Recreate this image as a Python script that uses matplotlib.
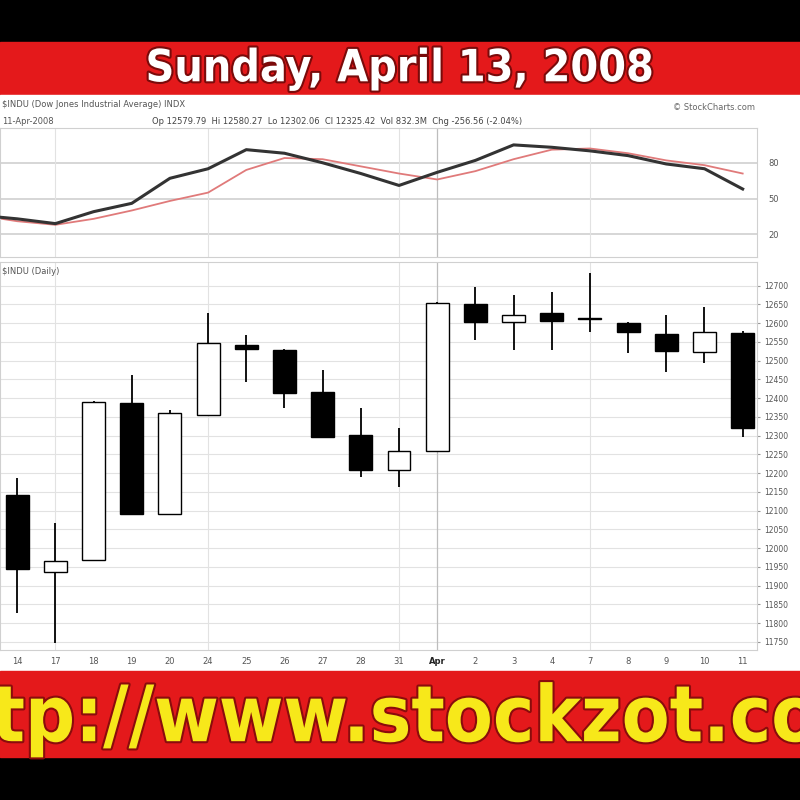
import pandas as pd
import matplotlib.pyplot as plt
import matplotlib.patheffects as pe
from matplotlib.patches import Rectangle
from matplotlib import font_manager as fm

# $INDU daily candles, 14 Mar - 11 Apr 2008
dates = ["2008-03-14", "2008-03-17", "2008-03-18", "2008-03-19", "2008-03-20",
         "2008-03-24", "2008-03-25", "2008-03-26", "2008-03-27", "2008-03-28",
         "2008-03-31", "2008-04-01", "2008-04-02", "2008-04-03", "2008-04-04",
         "2008-04-07", "2008-04-08", "2008-04-09", "2008-04-10", "2008-04-11"]
opens = [12141, 11936, 11968, 12387, 12091, 12355, 12542, 12529, 12416, 12302,
         12208, 12259, 12651, 12603, 12627, 12612, 12601, 12571, 12523, 12574]
closes = [11944, 11965, 12390, 12091, 12360, 12547, 12531, 12414, 12296, 12208,
          12259, 12654, 12603, 12622, 12606, 12614, 12577, 12526, 12577, 12320]
highs = [12187, 12067, 12392, 12462, 12368, 12627, 12569, 12532, 12475, 12374,
         12320, 12656, 12697, 12675, 12683, 12734, 12603, 12622, 12643, 12578]
lows = [11826, 11746, 11965, 12088, 12088, 12352, 12443, 12374, 12293, 12189,
        12163, 12256, 12555, 12529, 12529, 12577, 12520, 12470, 12494, 12296]

# oscillator panel, first value is 13 Mar (just off the left edge)
osc_main = [36, 33, 29, 39, 46, 67, 75, 91, 88, 80, 71, 61, 72, 82, 95, 93, 90, 86, 79, 75, 58]
osc_signal = [36, 31, 28, 33, 40, 48, 55, 74, 84, 83, 77, 71, 66, 73, 83, 91, 92, 88, 82, 78, 71]
osc_levels = [20, 50, 80]

price_ticks = list(range(11750, 12701, 50))

title = "Sunday, April 13, 2008"
url = "http://www.stockzot.com"
hdr1 = "$INDU (Dow Jones Industrial Average) INDX"
hdr2 = "Op 12579.79  Hi 12580.27  Lo 12302.06  Cl 12325.42  Vol 832.3M  Chg -256.56 (-2.04%)"

d = pd.to_datetime(dates)
x = list(range(len(d)))
labels = ["Apr" if (i > 0 and t.month != d[i - 1].month) else str(t.day) for i, t in enumerate(d)]
mondays = [i for i, t in enumerate(d) if t.weekday() == 0]
month_start = [i for i in x if i > 0 and d[i].month != d[i - 1].month]

# narrow bold face for the banners, if one is around
fonts = {(f.name, f.stretch) for f in fm.fontManager.ttflist}
if any(n == "Liberation Sans Narrow" for n, s in fonts):
    banner = dict(family="Liberation Sans Narrow", weight="bold")
    t_size, u_size = 39, 66
elif ("DejaVu Sans", "condensed") in fonts:
    banner = dict(family="DejaVu Sans", stretch="condensed", weight="bold")
    t_size, u_size = 32, 56
else:
    banner = dict(family="DejaVu Sans", weight="bold")
    t_size, u_size = 29, 49

fig = plt.figure(figsize=(8, 8), dpi=100, facecolor="black")
red = "#e4191b"
fig.add_artist(Rectangle((0, 0.88125), 1, 0.066, transform=fig.transFigure, color=red, zorder=0))
fig.add_artist(Rectangle((0, 0.16125), 1, 0.72, transform=fig.transFigure, color="white", zorder=0))
fig.add_artist(Rectangle((0, 0.05375), 1, 0.1075, transform=fig.transFigure, color=red, zorder=0))

fig.text(0.5, 0.914, title, ha="center", va="center", color="white", fontsize=t_size,
         path_effects=[pe.withStroke(linewidth=3, foreground="#7a0a0a")], **banner)
fig.text(0.5, 0.101, url, ha="center", va="center", color="#f7e81a", fontsize=u_size,
         path_effects=[pe.withStroke(linewidth=3, foreground="#8a0c0c")], **banner)

fig.text(0.002, 0.869, hdr1, fontsize=6, color="#555", va="center")
fig.text(0.002, 0.848, "11-Apr-2008", fontsize=6, color="#555", va="center")
fig.text(0.19, 0.848, hdr2, fontsize=6, color="#444", va="center")
fig.text(0.944, 0.866, "© StockCharts.com", fontsize=6, color="#666", va="center", ha="right")

grid_c = "#e2e2e2"

# oscillator panel
ax1 = fig.add_axes([0, 0.67875, 0.946, 0.161])
ax1.set_facecolor("white")
for lv in osc_levels:
    ax1.axhline(lv, color="#cfcfcf", lw=1.2, zorder=1)
for m in mondays:
    ax1.axvline(m, color=grid_c, lw=0.8, zorder=1)
for m in month_start:
    ax1.axvline(m, color="#bdbdbd", lw=0.9, zorder=1)
ox = list(range(-1, len(osc_main) - 1))
ax1.plot(ox, osc_signal, color="#e07a7a", lw=1.3, zorder=2)
ax1.plot(ox, osc_main, color="#333333", lw=2.2, zorder=3)
ax1.set_xlim(-0.45, 19.37)
ax1.set_ylim(1, 109)
ax1.set_xticks([])
ax1.yaxis.tick_right()
ax1.set_yticks(osc_levels)
ax1.tick_params(axis="y", length=0, labelsize=6, labelcolor="#555", pad=8)
for s in ax1.spines.values():
    s.set_color("#d0d0d0")
    s.set_linewidth(0.8)

# price panel
ax2 = fig.add_axes([0, 0.1875, 0.946, 0.485])
ax2.set_facecolor("white")
for p in price_ticks:
    ax2.axhline(p, color=grid_c, lw=0.8, zorder=1)
for m in mondays:
    ax2.axvline(m, color=grid_c, lw=0.8, zorder=1)
for m in month_start:
    ax2.axvline(m, color="#bdbdbd", lw=0.9, zorder=1)

up = [c >= o for o, c in zip(opens, closes)]
ax2.vlines(x, lows, highs, color="black", lw=1.3, zorder=2)
ax2.bar(x, [abs(c - o) for o, c in zip(opens, closes)], bottom=[min(o, c) for o, c in zip(opens, closes)],
        width=0.6, color=["white" if u else "black" for u in up], edgecolor="black", lw=1.0, zorder=3)

ax2.set_xlim(-0.45, 19.37)
ax2.set_ylim(11728, 12763)
ax2.yaxis.tick_right()
ax2.set_yticks(price_ticks)
ax2.set_yticklabels([str(p) for p in price_ticks])
ax2.tick_params(axis="y", length=2, labelsize=5.5, labelcolor="#555", color="#999", pad=3)
ax2.set_xticks(x)
ax2.set_xticklabels(labels)
ax2.tick_params(axis="x", length=0, labelsize=6, labelcolor="#555", pad=5)
for lab in ax2.get_xticklabels():
    if lab.get_text() == "Apr":
        lab.set_fontweight("bold")
        lab.set_color("#222")
ax2.text(0.003, 0.975, "$INDU (Daily)", transform=ax2.transAxes, fontsize=6, color="#555", va="center")
for s in ax2.spines.values():
    s.set_color("#d0d0d0")
    s.set_linewidth(0.8)

fig.savefig("out.png", dpi=100, facecolor="black")
